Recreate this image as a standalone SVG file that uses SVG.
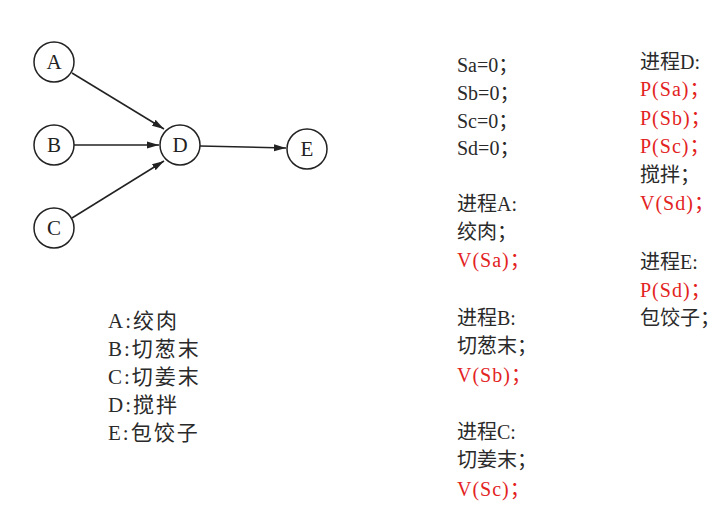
<svg xmlns="http://www.w3.org/2000/svg" width="728" height="529" viewBox="0 0 728 529">
<defs>
<marker id="arr" viewBox="0 0 12 10" refX="12" refY="5" markerWidth="12" markerHeight="10" markerUnits="userSpaceOnUse" orient="auto">
<path d="M0,1.5 L12,5 L0,8.5 Z" fill="#222"/>
</marker>
<style>
.n circle{fill:#fff;stroke:#222;stroke-width:1.5}
.n text{font-family:"Liberation Serif","Noto Sans CJK SC",serif;font-size:21px;fill:#222;text-anchor:middle}
.c line{stroke:#222;stroke-width:1.5;marker-end:url(#arr)}
.t{font-family:"Liberation Serif","Noto Sans CJK SC",serif;font-size:20px;fill:#2a2a2a}
.l{font-family:"Liberation Serif","Noto Sans CJK SC",serif;font-size:21px;fill:#2a2a2a;letter-spacing:2px}
.r{fill:#e3231e;letter-spacing:1px}
</style>
</defs>
<rect width="728" height="529" fill="#fff"/>
<g class="c">
<line x1="72" y1="73" x2="164" y2="129"/>
<line x1="74" y1="145" x2="159" y2="145"/>
<line x1="72" y1="218" x2="164" y2="161"/>
<line x1="200" y1="146" x2="286" y2="148"/>
</g>
<g id="A" class="n"><circle cx="54" cy="62" r="20"/><text x="54" y="69">A</text></g>
<g id="B" class="n"><circle cx="54" cy="145" r="20"/><text x="54" y="152">B</text></g>
<g id="C" class="n"><circle cx="54" cy="228" r="20"/><text x="54" y="235">C</text></g>
<g id="D" class="n"><circle cx="180" cy="145" r="20"/><text x="180" y="152">D</text></g>
<g id="E" class="n"><circle cx="307" cy="149" r="20"/><text x="307" y="156">E</text></g>
<g class="l">
<text x="108" y="328">A:绞肉</text>
<text x="108" y="356">B:切葱末</text>
<text x="108" y="384">C:切姜末</text>
<text x="108" y="412">D:搅拌</text>
<text x="108" y="440">E:包饺子</text>
</g>
<g class="t">
<text x="457" y="72">Sa=0；</text>
<text x="457" y="100">Sb=0；</text>
<text x="457" y="128">Sc=0；</text>
<text x="457" y="155">Sd=0；</text>
<text x="457" y="211">进程A:</text>
<text x="457" y="239">绞肉；</text>
<text x="457" y="267" class="r">V(Sa)；</text>
<text x="457" y="325">进程B:</text>
<text x="457" y="353">切葱末；</text>
<text x="457" y="382" class="r">V(Sb)；</text>
<text x="457" y="439">进程C:</text>
<text x="457" y="467">切姜末；</text>
<text x="457" y="496" class="r">V(Sc)；</text>
</g>
<g class="t">
<text x="640" y="69">进程D:</text>
<text x="640" y="96" class="r">P(Sa)；</text>
<text x="640" y="125" class="r">P(Sb)；</text>
<text x="640" y="153" class="r">P(Sc)；</text>
<text x="640" y="182">搅拌；</text>
<text x="640" y="210" class="r">V(Sd)；</text>
<text x="640" y="269">进程E:</text>
<text x="640" y="297" class="r">P(Sd)；</text>
<text x="640" y="325">包饺子；</text>
</g>
</svg>
